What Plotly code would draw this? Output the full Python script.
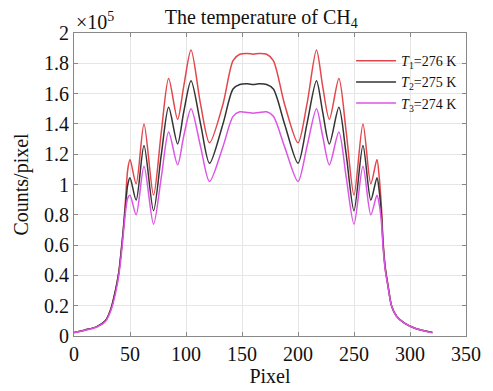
import plotly.graph_objects as go

# Pixel positions (shared by all series)
pixel = [0, 10, 20, 28, 33, 37, 40, 42, 44, 46, 48, 50, 55.5, 62.5, 71, 78, 84.5, 92.5, 98, 104.5,
         113, 121, 133, 142, 148, 155, 160, 165, 172, 178, 188, 200, 208, 216.5, 222, 228, 236.5, 243,
         250, 258, 265, 270.5, 272.5, 274.5, 276, 278, 280.5, 283.5, 288, 295, 305, 320]

# Counts/pixel in units of 1e5
t1_276 = [0.023, 0.04, 0.06, 0.10, 0.18, 0.30, 0.42, 0.55, 0.70, 0.90, 1.10, 1.165, 1.005, 1.40, 0.93, 1.35, 1.70, 1.43, 1.65, 1.888,
          1.53, 1.275, 1.53, 1.818, 1.86, 1.865, 1.86, 1.865, 1.86, 1.818, 1.53, 1.275, 1.53, 1.888, 1.65, 1.43, 1.70, 1.35,
          0.93, 1.40, 1.005, 1.165, 1.05, 0.85, 0.62, 0.45, 0.33, 0.20, 0.13, 0.085, 0.05, 0.023]
t2_275 = [0.023, 0.04, 0.06, 0.10, 0.18, 0.30, 0.42, 0.55, 0.70, 0.86, 1.00, 1.045, 0.897, 1.257, 0.827, 1.20, 1.51, 1.268, 1.48, 1.685,
          1.40, 1.14, 1.40, 1.63, 1.66, 1.665, 1.66, 1.665, 1.66, 1.63, 1.40, 1.14, 1.40, 1.685, 1.48, 1.268, 1.51, 1.20,
          0.827, 1.257, 0.897, 1.045, 0.96, 0.80, 0.60, 0.44, 0.325, 0.20, 0.13, 0.085, 0.05, 0.023]
t3_274 = [0.022, 0.038, 0.058, 0.095, 0.17, 0.28, 0.40, 0.52, 0.67, 0.82, 0.91, 0.929, 0.80, 1.12, 0.738, 1.05, 1.346, 1.13, 1.32, 1.50,
          1.25, 1.02, 1.25, 1.45, 1.48, 1.475, 1.47, 1.475, 1.48, 1.45, 1.25, 1.02, 1.25, 1.50, 1.32, 1.13, 1.346, 1.05,
          0.738, 1.12, 0.80, 0.929, 0.87, 0.75, 0.58, 0.43, 0.32, 0.20, 0.13, 0.085, 0.05, 0.022]

series = [
    ("<i>T</i><sub>1</sub>=276 K", t1_276, "#e2474d"),
    ("<i>T</i><sub>2</sub>=275 K", t2_275, "#333333"),
    ("<i>T</i><sub>3</sub>=274 K", t3_274, "#dd55e6"),
]

x_ticks = [0, 50, 100, 150, 200, 250, 300, 350]
y_ticks = [0, 0.2, 0.4, 0.6, 0.8, 1, 1.2, 1.4, 1.6, 1.8, 2]

fig = go.Figure()
for name, vals, col in series:
    fig.add_trace(go.Scatter(x=pixel, y=vals, mode="lines", name=name,
                             line=dict(color=col, width=1.5, shape="spline", smoothing=0.8)))

font_serif = "Liberation Serif, Times New Roman, serif"
axis_common = dict(showline=True, linecolor="#888888", linewidth=1, mirror="ticks",
                   ticks="inside", ticklen=4, tickcolor="#888888",
                   showgrid=True, gridcolor="#e6e6e6", gridwidth=1, zeroline=False,
                   tickfont=dict(family=font_serif, size=20, color="#111111"))

fig.update_layout(
    width=493, height=391,
    margin=dict(l=74, r=19, t=33, b=43),
    paper_bgcolor="white", plot_bgcolor="white",
    title=dict(text="The temperature of CH<sub>4</sub>", x=0.53, xanchor="center", y=0.975, yanchor="top",
               font=dict(family=font_serif, size=20, color="#111111")),
    xaxis=dict(range=[0, 350], tickvals=x_ticks, ticktext=[str(v) for v in x_ticks],
               title=dict(text="Pixel", font=dict(family=font_serif, size=20, color="#111111"), standoff=0),
               **axis_common),
    yaxis=dict(range=[0, 2], tickvals=y_ticks, ticktext=[f"{v:g}" for v in y_ticks],
               title=dict(text="Counts/pixel", font=dict(family=font_serif, size=20, color="#111111"), standoff=10),
               **axis_common),
    legend=dict(x=0.99, y=0.96, xanchor="right", yanchor="top", bgcolor="rgba(0,0,0,0)",
                font=dict(family=font_serif, size=14, color="#111111"), tracegroupgap=0, itemwidth=40),
    showlegend=True,
)
fig.add_annotation(text="×10<sup>5</sup>", xref="paper", yref="paper", x=0.0, y=1.0,
                   xanchor="left", yanchor="bottom", showarrow=False, yshift=-2,
                   font=dict(family=font_serif, size=20, color="#111111"))

fig.write_html("out.html")
